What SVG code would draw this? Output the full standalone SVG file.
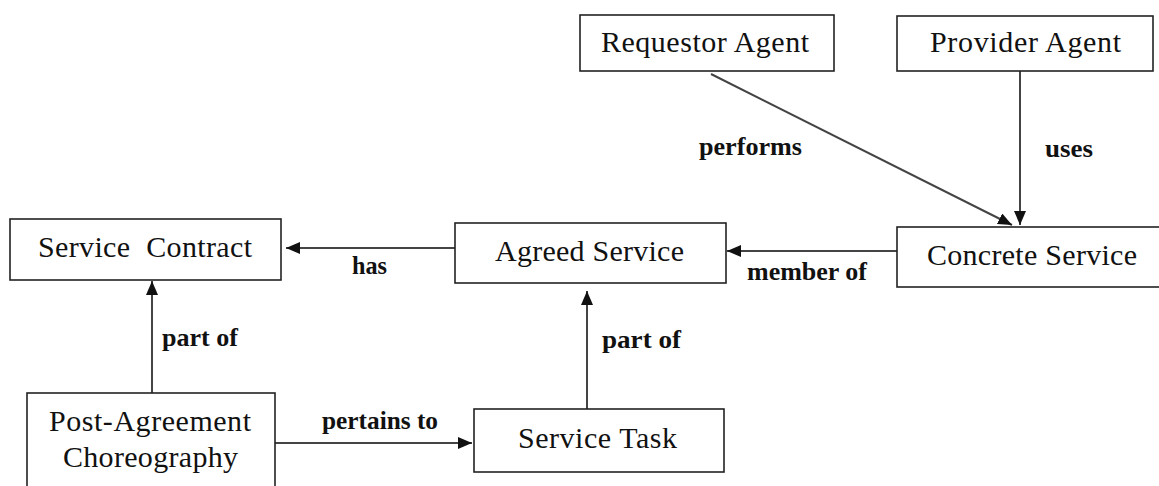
<svg xmlns="http://www.w3.org/2000/svg" width="1159" height="486" viewBox="0 0 1159 486">
  <style>
    .box { fill: #ffffff; stroke: #222222; stroke-width: 1.6; }
    .name { font-family: "Liberation Serif", "Times New Roman", serif; font-size: 30px; fill: #111111; }
    .edge { fill: none; stroke: #444444; stroke-width: 2; marker-end: url(#head); }
    .rel { font-family: "Liberation Serif", "Times New Roman", serif; font-size: 25px; font-weight: bold; fill: #111111; }
  </style>
  <defs>
    <marker id="head" markerUnits="userSpaceOnUse" markerWidth="14" markerHeight="12" refX="14" refY="6" orient="auto">
      <path d="M0,0 L14,6 L0,12 z" fill="#111111"/>
    </marker>
  </defs>

  <rect width="1159" height="486" fill="#ffffff"/>

  <!-- relationships -->
  <g id="connectors">
    <path class="edge" d="M711,74 L1012,225"/>
    <path class="edge" d="M1020,71 L1020,225"/>
    <path class="edge" d="M897,251 L727,251"/>
    <path class="edge" d="M455,248 L286,248"/>
    <path class="edge" d="M152,393 L152,281"/>
    <path class="edge" d="M587,409 L587,291"/>
    <path class="edge" d="M275,443 L472,443"/>
    <text class="rel" x="699" y="155" textLength="103" lengthAdjust="spacingAndGlyphs">performs</text>
    <text class="rel" x="1045" y="157" textLength="48" lengthAdjust="spacingAndGlyphs">uses</text>
    <text class="rel" x="747" y="280" textLength="120" lengthAdjust="spacingAndGlyphs">member of</text>
    <text class="rel" x="352" y="274" textLength="35" lengthAdjust="spacingAndGlyphs">has</text>
    <text class="rel" x="162" y="346" textLength="76" lengthAdjust="spacingAndGlyphs">part of</text>
    <text class="rel" x="602" y="348" textLength="79" lengthAdjust="spacingAndGlyphs">part of</text>
    <text class="rel" x="322" y="429" textLength="116" lengthAdjust="spacingAndGlyphs">pertains to</text>
  </g>

  <g id="requestor-agent">
    <rect class="box" x="580" y="15" width="254" height="56"/>
    <text class="name" x="601" y="52" textLength="208" lengthAdjust="spacing">Requestor Agent</text>
  </g>

  <g id="provider-agent">
    <rect class="box" x="897" y="16" width="256" height="55"/>
    <text class="name" x="930" y="52" textLength="191" lengthAdjust="spacing">Provider Agent</text>
  </g>

  <g id="concrete-service">
    <rect class="box" x="897" y="227" width="290" height="60"/>
    <text class="name" x="927" y="265" textLength="210" lengthAdjust="spacing">Concrete Service</text>
  </g>

  <g id="agreed-service">
    <rect class="box" x="455" y="223" width="271" height="60"/>
    <text class="name" x="495" y="261" textLength="189" lengthAdjust="spacing">Agreed Service</text>
  </g>

  <g id="service-contract">
    <rect class="box" x="10" y="219" width="271" height="61"/>
    <text class="name" x="38" y="257" textLength="214" lengthAdjust="spacing" xml:space="preserve">Service  Contract</text>
  </g>

  <g id="service-task">
    <rect class="box" x="474" y="409" width="250" height="63"/>
    <text class="name" x="518" y="448" textLength="159" lengthAdjust="spacing">Service Task</text>
  </g>

  <g id="post-agreement-choreography">
    <rect class="box" x="27" y="393" width="248" height="110"/>
    <text class="name" x="49" y="431" textLength="202" lengthAdjust="spacing">Post-Agreement</text>
    <text class="name" x="63" y="467" textLength="175" lengthAdjust="spacing">Choreography</text>
  </g>
</svg>
